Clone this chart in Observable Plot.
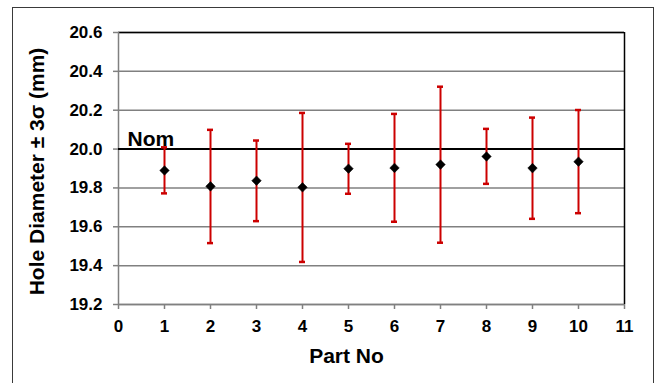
<!DOCTYPE html>
<html>
<head>
<meta charset="utf-8">
<script src="https://cdn.jsdelivr.net/npm/d3@7"></script>
<script src="https://cdn.jsdelivr.net/npm/@observablehq/plot@0.6"></script>
<style>
  html, body { margin: 0; padding: 0; background: #fff; }
  #wrap { position: relative; width: 657px; height: 383px; overflow: hidden; }
  #border { position: absolute; left: 12px; top: 7px; width: 640px; height: 420px; border: 1.5px solid #3a3a3a; pointer-events: none; }
</style>
</head>
<body>
<div id="wrap"><div id="border"></div></div>
<script>
const parts = [1, 2, 3, 4, 5, 6, 7, 8, 9, 10];
const means = [19.89, 19.808, 19.837, 19.803, 19.899, 19.903, 19.92, 19.962, 19.902, 19.935];
const lows  = [19.772, 19.516, 19.629, 19.419, 19.77, 19.626, 19.518, 19.821, 19.641, 19.67];
const highs = [20.009, 20.099, 20.044, 20.186, 20.027, 20.181, 20.321, 20.104, 20.162, 20.201];
const xTicks = [0, 1, 2, 3, 4, 5, 6, 7, 8, 9, 10, 11];
const yTicks = [19.2, 19.4, 19.6, 19.8, 20.0, 20.2, 20.4, 20.6];
const nominal = 20.0;
const nominalLabel = "Nom";
const xTitle = "Part No";
const yTitle = "Hole Diameter \u00B1 3\u03C3 (mm)";

const data = parts.map((p, i) => ({part: p, mean: means[i], lo: lows[i], hi: highs[i]}));

const red = "#cc0000";
const gray = "#808080";
const font = "'Liberation Sans', Arial, sans-serif";

const chart = Plot.plot({
  width: 657,
  height: 383,
  marginLeft: 118,
  marginRight: 33,
  marginTop: 32,
  marginBottom: 79,
  style: {fontFamily: font, fontWeight: "bold", color: "black", background: "transparent"},
  x: {domain: [0, 11]},
  y: {domain: [19.2, 20.6]},
  marks: [
    Plot.gridY(yTicks, {stroke: gray, strokeOpacity: 1, strokeWidth: 1.5}),
    Plot.ruleY([yTicks[yTicks.length - 1]], {stroke: "black", strokeWidth: 1.5}),
    Plot.ruleX([xTicks[xTicks.length - 1]], {stroke: "black", strokeWidth: 1.5}),
    Plot.ruleX([xTicks[0]], {stroke: gray, strokeWidth: 1.5}),
    Plot.ruleY([yTicks[0]], {stroke: gray, strokeWidth: 1.5}),
    Plot.ruleY([nominal], {stroke: "black", strokeWidth: 2}),
    Plot.axisY(yTicks, {tickSize: 5, tickPadding: 11, tickFormat: d3.format(".1f"), fontSize: 17, stroke: gray, strokeWidth: 1.5, fill: "black", label: null}),
    Plot.axisX(xTicks, {tickSize: 5, tickPadding: 10, tickFormat: d3.format("d"), fontSize: 17, stroke: gray, strokeWidth: 1.5, fill: "black", label: null}),
    Plot.ruleX(data, {x: "part", y1: "lo", y2: "hi", stroke: red, strokeWidth: 2}),
    Plot.ruleY(data, {y: "hi", x1: "part", x2: "part", insetLeft: -3, insetRight: -3, stroke: red, strokeWidth: 2.5}),
    Plot.ruleY(data, {y: "lo", x1: "part", x2: "part", insetLeft: -3, insetRight: -3, stroke: red, strokeWidth: 2.5}),
    Plot.dot(data, {x: "part", y: "mean", symbol: "diamond2", r: 4.3, fill: "black", stroke: "black", strokeWidth: 0.5}),
    Plot.text([nominal], {y: d => d, frameAnchor: "left", text: () => nominalLabel, textAnchor: "start", dx: 9, dy: -9.5, fontSize: 21, fontWeight: "bold", fill: "black"}),
    Plot.text([xTitle], {frameAnchor: "bottom", text: d => d, textAnchor: "middle", dx: -25, dy: 58, fontSize: 21, fontWeight: "bold", fill: "black"}),
    Plot.text([yTitle], {frameAnchor: "left", text: d => d, textAnchor: "middle", rotate: -90, dx: -81.5, dy: 3, fontSize: 21, fontWeight: "bold", fill: "black"})
  ]
});
chart.style.position = "absolute";
chart.style.left = "0px";
chart.style.top = "0px";
document.getElementById("wrap").prepend(chart);
</script>
</body>
</html>
